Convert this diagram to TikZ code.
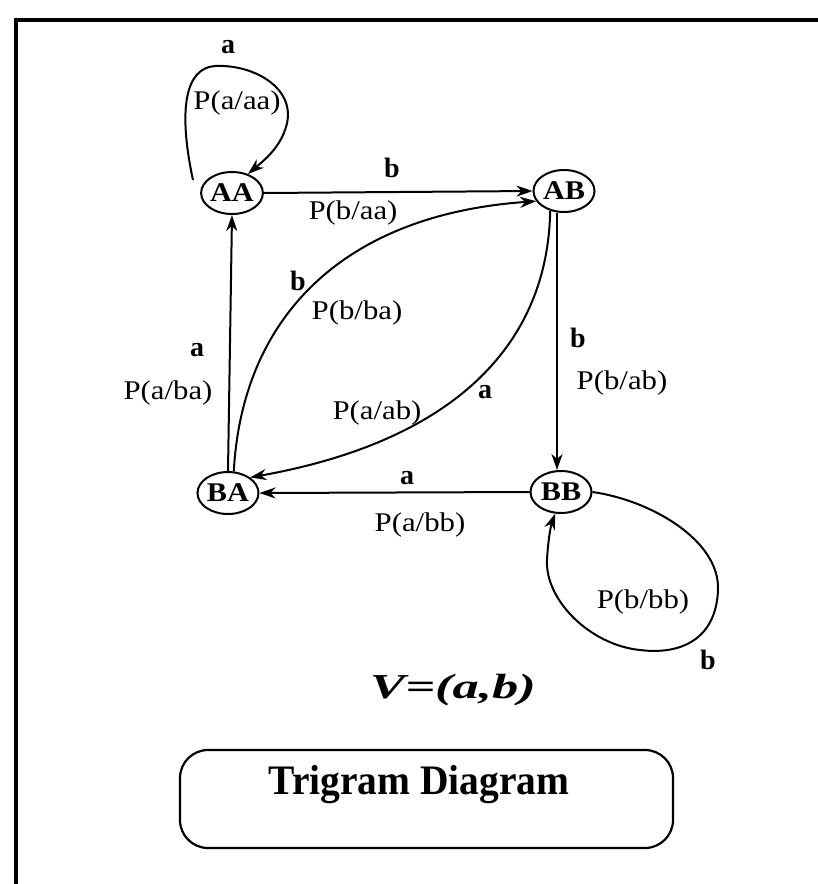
\documentclass[tikz,border=0pt]{standalone}
\usepackage{fontspec}
\setmainfont{Liberation Serif}
\newfontfamily\probfont[FakeStretch=1.14]{Liberation Serif}
\newfontfamily\statefont[FakeStretch=1.12]{Liberation Serif}
\newfontfamily\vfont[FakeStretch=1.5]{Liberation Serif}
\newfontfamily\titlefont[FakeStretch=0.94]{Liberation Serif}
\usetikzlibrary{shapes.geometric,arrows.meta}
\begin{document}
\begin{tikzpicture}[x=1pt,y=-1pt,
  state/.style={ellipse,draw,line width=2pt,minimum width=61pt,minimum height=42pt,inner sep=0pt,
    font=\statefont\fontsize{27}{30}\selectfont\bfseries},
  arr/.style={line width=2pt,-{Stealth[length=16pt,width=11pt,inset=5pt]}},
  sym/.style={font=\fontsize{28}{30}\selectfont\bfseries,inner sep=0pt},
  prob/.style={font=\probfont\fontsize{27}{30}\selectfont,inner sep=0pt}]
\useasboundingbox (0,0) rectangle (818,884);
% frame
\draw[line width=3.2pt] (16,884) -- (16,20) -- (818,20);
% states
\node[state] (AA) at (232,193) {AA};
\node[state] (AB) at (564,191) {AB};
\node[state] (BA) at (228,493) {BA};
\node[state] (BB) at (561,492) {BB};
\coordinate (aaloop) at (193,180);
% AA self loop
\draw[arr] (aaloop) .. controls (178,110) and (185,68) .. (215,66)
  .. controls (255,64) and (300,90) .. (285,130)
  .. controls (278,150) and (262,162) .. (AA.50);
\node[sym] (la1) at (228,47) {a};
\node[prob] (pa1) at (237,103) {P(a/aa)};
% AA -> AB
\draw[arr] (AA.east) -- (AB.west);
\node[sym] (lb1) at (392,168) {b};
\node[prob] (pb1) at (353,213) {P(b/aa)};
% BA -> AB curve
\draw[arr] (BA.75) .. controls (242,320) and (340,215) .. (AB.200);
\node[sym] (lb2) at (298,281) {b};
\node[prob] (pb2) at (357,313) {P(b/ba)};
% AB -> BA curve
\draw[arr] (AB.235) .. controls (548,340) and (460,440) .. (BA.35);
\node[sym] (la2) at (485,392) {a};
\node[prob] (pa2) at (377,413) {P(a/ab)};
% BA -> AA
\draw[arr] (BA.north) -- (AA.south);
\node[sym] (la3) at (197,350) {a};
\node[prob] (pa3) at (168,393) {P(a/ba)};
% AB -> BB
\draw[arr] (AB.south -| 557,0) -- (BB.north -| 557,0);
\node[sym] (lb3) at (578,338) {b};
\node[prob] (pb3) at (622,383) {P(b/ab)};
% BB -> BA
\draw[arr] (BB.west) -- (BA.east);
\node[sym] (la4) at (407,478) {a};
\node[prob] (pa4) at (420,525) {P(a/bb)};
% BB self loop
\draw[arr] (BB.east) .. controls (650,500) and (720,540) .. (718,590)
  .. controls (716,640) and (680,655) .. (640,650)
  .. controls (590,645) and (545,600) .. (547,560)
  .. controls (548,540) and (551,525) .. (BB.255);
\node[prob] (pb4) at (643,602) {P(b/bb)};
\node[sym] (lb4) at (708,660) {b};
% V
\node[font=\vfont\fontsize{35}{38}\selectfont\bfseries\itshape,inner sep=0pt,anchor=base] (V) at (453,698) {V=(a,b)};
% title box
\draw[line width=2.2pt,rounded corners=28pt] (180,750) rectangle (673,848);
\node[font=\titlefont\fontsize{42}{44}\selectfont\bfseries,inner sep=0pt,anchor=base] (title) at (419,794) {Trigram Diagram};
\end{tikzpicture}
\end{document}
